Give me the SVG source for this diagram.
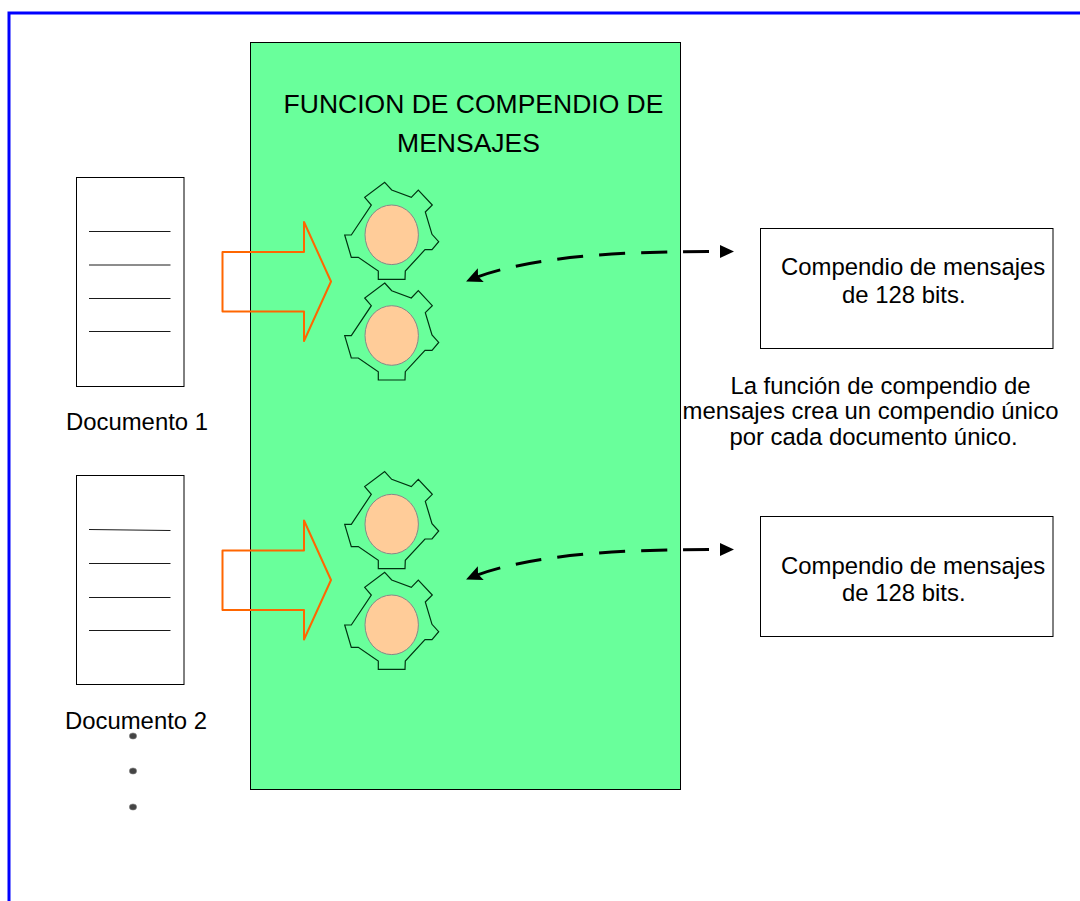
<svg xmlns="http://www.w3.org/2000/svg" xmlns:xlink="http://www.w3.org/1999/xlink" width="1080" height="901" viewBox="0 0 1080 901">
<style>
text{font-family:"Liberation Sans",Arial,sans-serif;font-size:23.9px;fill:#000}
.title{font-size:26.5px}
.t{text-anchor:middle}
.box{fill:#fff;stroke:#000;stroke-width:1}
.ln{stroke:#000;stroke-width:.9;fill:none}
.gear{fill:none;stroke:#031;stroke-width:1.2}
.core{fill:#fc9;stroke:#888;stroke-width:1}
.big{fill:none;stroke:#f60;stroke-width:2;stroke-linejoin:round}
.dash{fill:none;stroke:#000;stroke-width:3;stroke-dasharray:26 16}
.dot{fill:#444;stroke:#888;stroke-width:.6}
</style>
<defs>
<g id="g"><polygon class="gear" points="54.7,12.3 61.7,20 81.3,27.3 88.3,20 102.3,35 95.3,42 102,64.3 108.7,71.7 102,79.7 95,79.7 75.3,101 75,109.3 48.3,109.3 48.3,101 28.3,87.3 21.3,87.3 14.7,65 21.3,65 41.3,35 34.7,27.3"/><ellipse class="core" cx="61.7" cy="64.8" rx="26.7" ry="29.8"/></g>
<g id="ar"><path class="big" d="M222.500 252H304V222L331 281.500L304 341V311.500H222.500Z"/></g>
<marker id="a" markerUnits="userSpaceOnUse" markerWidth="18" markerHeight="18" refX="15" refY="9" orient="auto"><path d="M0 1.500L16 9L0 16.500L3 9Z" fill="#000"/></marker>
</defs>
<path id="frame" d="M9 901V13H1080" fill="none" stroke="#00f" stroke-width="3"/>
<g id="main"><rect x="250.500" y="42.500" width="430" height="747" fill="#69ff9b" stroke="#000" stroke-width="1"/><text class="t title" x="473.500" y="113">FUNCION DE COMPENDIO DE</text><text class="t title" x="468.500" y="151.500">MENSAJES</text></g>
<g id="doc1"><rect class="box" x="76.500" y="177.500" width="107.500" height="209"/><path class="ln" d="M89 231.500H170.500M89 265H170.500M89 298.500H170.500M89 331.500H170.500"/><text class="t" x="137" y="430">Documento 1</text></g>
<g id="doc2"><rect class="box" x="76.500" y="475.500" width="107.500" height="209"/><path class="ln" d="M89 529.500L170.500 530.500M89 563.500H170.500M89 597.500H170.500M89 630.500H170.500"/><text class="t" x="136" y="729">Documento 2</text></g>
<g id="gears1"><use xlink:href="#g" href="#g" transform="translate(330,170)"/><use xlink:href="#g" href="#g" transform="translate(330,270.700)"/></g>
<g id="gears2"><use xlink:href="#g" href="#g" transform="translate(330,459.300)"/><use xlink:href="#g" href="#g" transform="translate(330,560)"/></g>
<g id="connectors">
<use xlink:href="#ar" href="#ar"/><use xlink:href="#ar" href="#ar" transform="translate(0,298.500)"/>
<path class="dash" d="M709 251.500C640 251.500 530 254 467 281" marker-end="url(#a)"/>
<path d="M720 245L734 251.500L720 258Z"/>
<path class="dash" d="M709 549.500C640 549.500 530 552 467 579" marker-end="url(#a)"/>
<path d="M720 543L734 549.500L720 556Z"/>
</g>
<g id="out1"><rect class="box" x="760.500" y="228.500" width="292.500" height="120"/><text x="781" y="275">Compendio de mensajes</text><text x="842" y="302.500">de 128 bits.</text></g>
<g id="out2"><rect class="box" x="760.500" y="516.500" width="292.500" height="120"/><text x="781" y="573.500">Compendio de mensajes</text><text x="842" y="601">de 128 bits.</text></g>
<g id="note"><text class="t" x="880.500" y="393.500">La función de compendio de</text><text class="t" x="870.500" y="419">mensajes crea un compendio único</text><text class="t" x="873.500" y="445">por cada documento único.</text></g>
<g id="dots"><ellipse class="dot" cx="133" cy="736" rx="3.700" ry="3.100"/><ellipse class="dot" cx="133" cy="771" rx="3.700" ry="3.100"/><ellipse class="dot" cx="133" cy="807" rx="3.700" ry="3.100"/></g>
</svg>
